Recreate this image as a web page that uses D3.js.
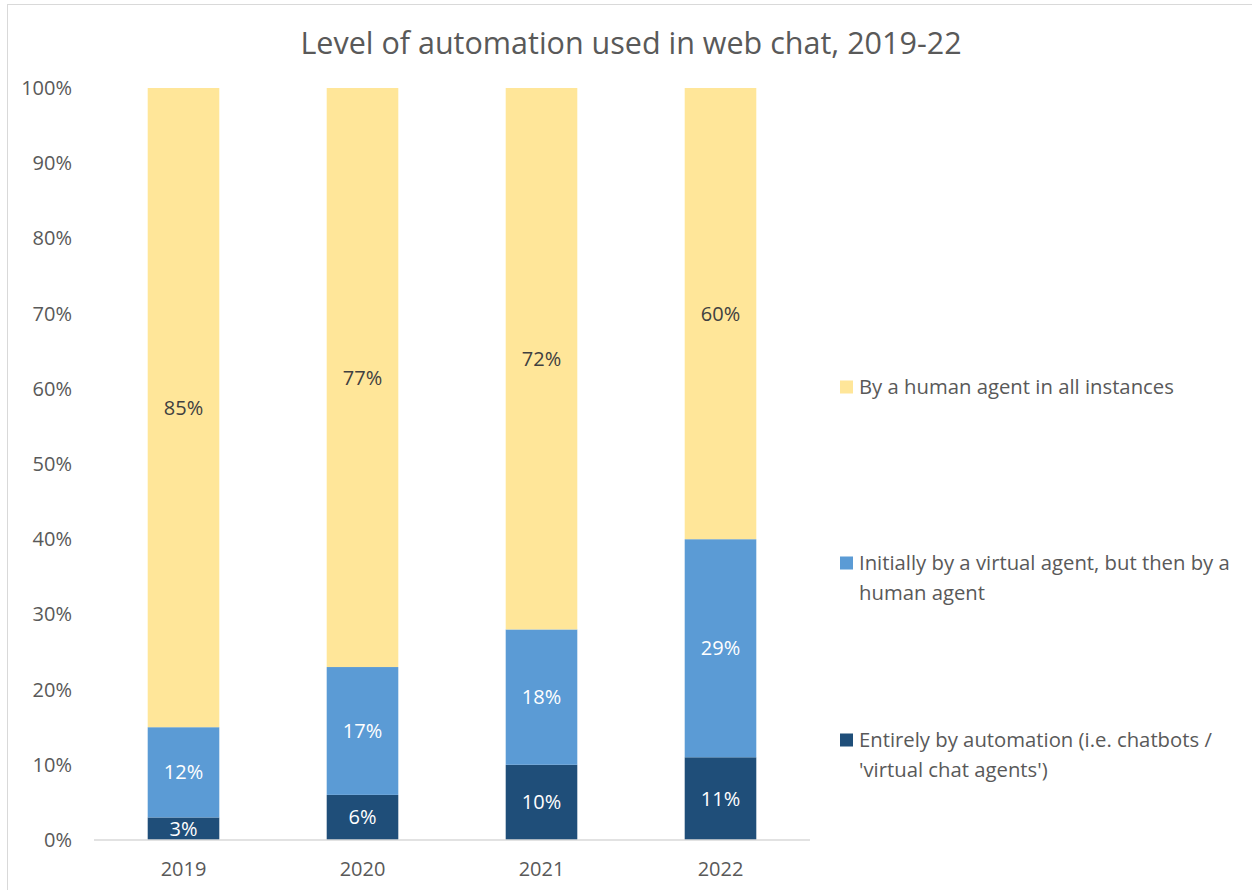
<!DOCTYPE html>
<html>
<head>
<meta charset="utf-8">
<script src="https://cdn.jsdelivr.net/npm/d3@7"></script>
<style>
  html, body { margin: 0; padding: 0; background: #fff; }
  svg { display: block; }
  text { font-family: "Open Sans", Lato, sans-serif; }
</style>
</head>
<body>
<svg id="chart" width="1252" height="890"></svg>
<script>
// Survey years and shares (%) of web chat handled at each automation level
const years = ["2019", "2020", "2021", "2022"];
const entirelyAutomated = [3, 6, 10, 11];
const virtualThenHuman = [12, 17, 18, 29];
const humanOnly = [85, 77, 72, 60];
const legendLines = [
  ["Entirely by automation (i.e. chatbots /", "'virtual chat agents')"],
  ["Initially by a virtual agent, but then by a", "human agent"],
  ["By a human agent in all instances"]
];
const yTicks = [0, 10, 20, 30, 40, 50, 60, 70, 80, 90, 100];

const colors = ["#1F4E79", "#5B9BD5", "#FFE699"];
const labelColors = ["#ffffff", "#ffffff", "#404040"];

const svg = d3.select("#chart");
const W = 1252, H = 890;

// chart border
svg.append("rect")
  .attr("x", 7.5).attr("y", 4.5)
  .attr("width", W).attr("height", H)
  .attr("fill", "#fff").attr("stroke", "#d9d9d9").attr("stroke-width", 1);

const plot = { left: 94, right: 810, top: 88, bottom: 840 };

const x = d3.scaleBand().domain(years).range([plot.left, plot.right]).paddingInner(0.6).paddingOuter(0.3);
const y = d3.scaleLinear().domain([0, 100]).range([plot.bottom, plot.top]);

const rows = years.map((yr, i) => ({
  year: yr,
  s0: entirelyAutomated[i], s1: virtualThenHuman[i], s2: humanOnly[i]
}));
const stacked = d3.stack().keys(["s0", "s1", "s2"])(rows);

// title
svg.append("text")
  .attr("x", 631).attr("y", 54)
  .attr("text-anchor", "middle")
  .attr("fill", "#595959")
  .style("font-size", "30.5px")
  .text("Level of automation used in web chat, 2019-22");

// y axis labels
const yAxis = d3.axisLeft(y).tickValues(yTicks).tickFormat(d => d + "%").tickSize(0).tickPadding(22);
const gy = svg.append("g").attr("transform", `translate(${plot.left},0)`).call(yAxis);
gy.select(".domain").remove();
gy.selectAll("text").attr("fill", "#595959").style("font-size", "20px");

// bars
const layers = svg.append("g").selectAll("g").data(stacked).join("g")
  .attr("fill", (d, i) => colors[i]);
layers.selectAll("rect").data(d => d).join("rect")
  .attr("x", d => x(d.data.year))
  .attr("width", x.bandwidth())
  .attr("y", d => y(d[1]))
  .attr("height", d => y(d[0]) - y(d[1]));

// data labels
stacked.forEach((layer, i) => {
  svg.append("g").selectAll("text").data(layer).join("text")
    .attr("x", d => x(d.data.year) + x.bandwidth() / 2)
    .attr("y", d => (y(d[0]) + y(d[1])) / 2)
    .attr("dy", "0.35em")
    .attr("text-anchor", "middle")
    .attr("fill", labelColors[i])
    .style("font-size", "20px")
    .text(d => (d[1] - d[0]) + "%");
});

// x axis
const xAxis = d3.axisBottom(x).tickSize(0).tickPadding(22);
const gx = svg.append("g").attr("transform", `translate(0,${plot.bottom})`).call(xAxis);
gx.select(".domain").attr("stroke", "#d9d9d9").attr("stroke-width", 1.5)
  .attr("d", `M${plot.left},0H${plot.right}`);
gx.selectAll("text").attr("fill", "#595959").style("font-size", "20px");

// legend
const legendY = [740, 563, 387];
const legend = svg.append("g");
legendLines.forEach((lines, i) => {
  legend.append("rect")
    .attr("x", 840).attr("y", legendY[i] - 6.5)
    .attr("width", 13).attr("height", 13)
    .attr("fill", colors[i]);
  const t = legend.append("text")
    .attr("x", 859).attr("y", legendY[i])
    .attr("fill", "#595959")
    .style("font-size", "20.3px");
  lines.forEach((ln, k) => {
    t.append("tspan").attr("x", 859)
      .attr("y", legendY[i] + k * 30)
      .attr("dy", "0.35em").text(ln);
  });
});
</script>
</body>
</html>
